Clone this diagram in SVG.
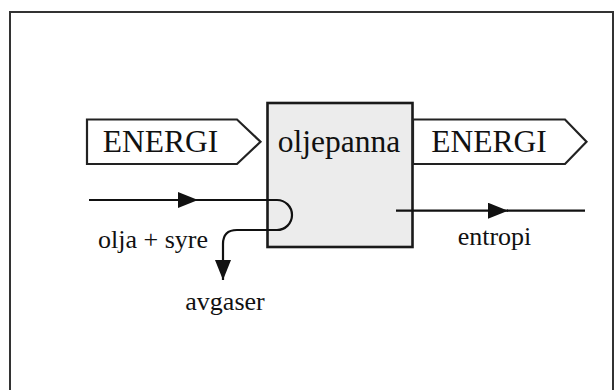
<svg xmlns="http://www.w3.org/2000/svg" width="615" height="390" viewBox="0 0 615 390">
<style>
.big{font-family:"Liberation Serif","Times New Roman",serif;font-size:31.5px;fill:#111;text-anchor:middle}
.small{font-family:"Liberation Serif","Times New Roman",serif;font-size:26px;fill:#111;text-anchor:middle}
.line{fill:none;stroke:#111;stroke-width:2.2}
.tag{fill:#fff;stroke:#222;stroke-width:2.2;stroke-linejoin:miter}
</style>
<defs>
<marker id="ah" markerUnits="userSpaceOnUse" viewBox="0 0 20 16" refX="20" refY="8" markerWidth="20" markerHeight="16" orient="auto">
<path d="M0,0 L20,8 L0,16 Z" fill="#111"/>
</marker>
</defs>
<rect x="10" y="12" width="603" height="390" fill="#fff" stroke="#333" stroke-width="2"/>
<g id="energi-in">
<polygon class="tag" points="87,119.5 237,119.5 260.5,141.8 237,164 87,164"/>
<text class="big" x="160.5" y="152">ENERGI</text>
</g>
<g id="oljepanna">
<rect x="267.5" y="103" width="145" height="144" fill="#ececec" stroke="#1a1a1a" stroke-width="2.6"/>
<text class="big" x="339" y="152">oljepanna</text>
</g>
<g id="energi-out">
<polygon class="tag" points="413,119.5 565,119.5 586.5,141.8 565,164 413,164"/>
<text class="big" x="489" y="152">ENERGI</text>
</g>
<g id="connectors">
<path class="line" d="M89,200 H198" marker-end="url(#ah)"/>
<path class="line" d="M197,200 H277 A15,15 0 0 1 277,230 H237 Q223,230 223,244 V280" marker-end="url(#ah)"/>
<path class="line" d="M396,210.7 H508" marker-end="url(#ah)"/>
<path class="line" d="M507,210.7 H585"/>
</g>
<g id="labels">
<text class="small" x="153" y="247.5">olja + syre</text>
<text class="small" x="225" y="310">avgaser</text>
<text class="small" x="494.5" y="245">entropi</text>
</g>
</svg>
